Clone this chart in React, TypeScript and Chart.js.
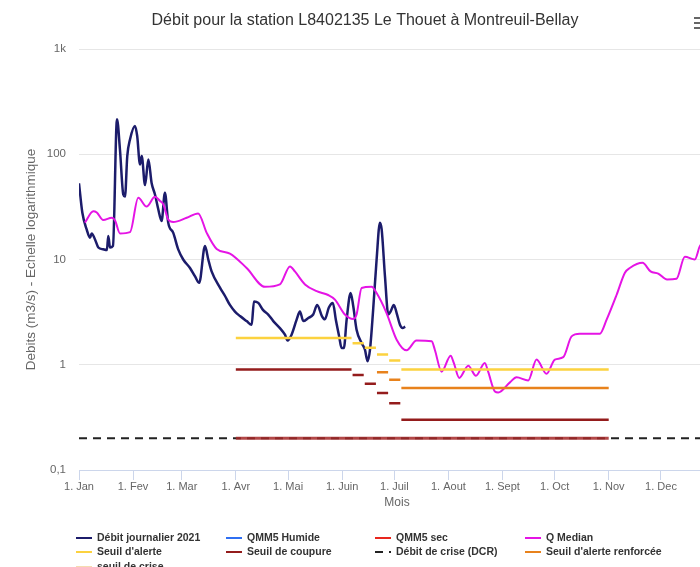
import React, { useEffect, useRef } from 'react';
import { Chart, registerables } from 'chart.js';

Chart.register(...registerables);

// ---- Data ----
const titleText = 'Débit pour la station L8402135 Le Thouet à Montreuil-Bellay';
const yAxisTitle = 'Debits (m3/s) - Echelle logarithmique';
const xAxisTitle = 'Mois';

const monthTicks = [0, 31, 59, 90, 120, 151, 181, 212, 243, 273, 304, 334];
const monthLabels = ['1. Jan', '1. Fev', '1. Mar', '1. Avr', '1. Mai', '1. Juin', '1. Juil', '1. Aout', '1. Sept', '1. Oct', '1. Nov', '1. Dec'];
const yTicks = [0.1, 1, 10, 100, 1000];
const yTickLabels = ['0,1', '1', '10', '100', '1k'];

// Débit journalier 2021 (day of year, m3/s)
const dailyDays = [0, 1.9, 4.4, 6.3, 7.3, 9.2, 11.1, 13.8, 16, 16.8, 17.8, 19.5, 21.8, 23.5, 25.4, 26.4, 27.7, 29.3, 32.1, 33.4, 35, 36, 37.9, 39.8, 41.7, 43.6, 45.5, 47.4, 49.3, 51.2, 54.1, 57, 59.8, 63.7, 66.6, 69, 72.3, 74.2, 76.1, 80.9, 83.8, 86.6, 89.5, 92.4, 96.2, 99.1, 100.4, 102.9, 105.7, 108.6, 111.5, 115.3, 118.2, 119.7, 122, 124.9, 126.8, 128.7, 131.6, 134.4, 136.7, 139.4, 141.1, 143.4, 145.7, 147.4, 149.3, 150.7, 152, 153.6, 155.9, 157.4, 159.3, 162.2, 164.1, 165.6, 167, 168.8, 170.8, 172.7, 173.7, 175.6, 177.5, 178.8, 180.7, 182.3, 184.2, 185.7, 187.2];
const dailyValues = [53, 28, 19.3, 16.1, 17.7, 15.5, 13, 12.5, 12.3, 16.7, 13, 13.5, 215, 111, 41.5, 39.6, 96, 139, 186, 149, 80, 96, 51, 89, 53, 41.5, 30, 23.2, 43, 22.4, 17.9, 12.4, 10, 8.3, 6.9, 6.0, 13.4, 10, 7.7, 5.4, 4.5, 3.7, 3.2, 2.9, 2.6, 2.4, 4.0, 3.87, 3.3, 3.0, 2.6, 2.23, 1.93, 1.7, 1.93, 2.68, 3.2, 2.6, 2.78, 3.0, 3.7, 2.9, 2.7, 3.5, 3.87, 2.68, 1.86, 1.44, 1.44, 2.68, 4.8, 3.6, 2.15, 1.61, 1.39, 1.08, 1.39, 3.3, 10, 22.4, 19.3, 6.9, 3.0, 3.2, 3.7, 3.1, 2.4, 2.23, 2.3];

// Q Median
const medianDays = [3.4, 8.2, 10.2, 13.9, 18.8, 20.7, 23.5, 29.3, 34, 38.8, 43.6, 46.5, 48.4, 51.2, 54.1, 61.8, 68.4, 73.3, 79, 86.6, 96.2, 106.7, 115.3, 121.1, 123.9, 129.7, 136.4, 143, 146.9, 152.6, 157.4, 159.3, 162.2, 167.9, 170.8, 176.5, 182.3, 188, 193.7, 202.4, 204.2, 208.1, 213.3, 215.1, 218.2, 223.4, 227.8, 232.9, 234.8, 238.7, 240.6, 247.3, 251.1, 257.8, 262.6, 268.3, 273.1, 277.9, 282.7, 287.4, 298.9, 302.8, 308.5, 313.3, 316.1, 323.4, 328, 332.4, 337.5, 342.9, 347.7, 353.4, 356.3, 365];
const medianValues = [22.4, 28.8, 28, 23.7, 24.9, 23.5, 17.7, 18.2, 38.6, 31.8, 39.4, 36, 33.4, 24, 22.7, 24.9, 27.4, 17.9, 12.6, 11.4, 8.3, 5.5, 5.8, 8.6, 7.7, 5.8, 5.0, 4.6, 4.16, 3.0, 2.72, 3.0, 5.36, 5.5, 4.8, 3.1, 1.73, 1.37, 1.7, 1.67, 1.39, 0.86, 1.22, 1.04, 0.75, 0.98, 0.786, 1.04, 0.86, 0.557, 0.545, 0.68, 0.76, 0.71, 1.12, 0.82, 1.12, 1.18, 1.86, 1.97, 1.97, 2.68, 4.6, 7.5, 8.3, 9.3, 7.7, 7.35, 6.45, 6.55, 10.6, 10, 13.4, 18];

// Threshold periods (day of year)
const periodStarts = [90, 157, 164, 171, 178, 185];
const periodEnds = [157, 164, 171, 178, 185, 304];
const alerteValues = [1.8, 1.6, 1.45, 1.25, 1.1, 0.9];
const renforceeValues = [null, null, null, 0.85, 0.72, 0.6];
const coupureValues = [0.9, 0.8, 0.66, 0.54, 0.43, 0.3];
const criseStarts = [90];
const criseEnds = [304];
const criseValues = [0.2];
const dcrValue = 0.2;

const FONT = '"Liberation Sans", Arial, sans-serif';

function pairs(xs: number[], ys: number[]) {
  return xs.map((x, i) => ({ x, y: ys[i] }));
}

function segments(starts: number[], ends: number[], values: (number | null)[], last: boolean) {
  const out: { x: number; y: number | null }[] = [];
  values.forEach((v, i) => {
    if (v == null) return;
    const isLast = i === values.length - 1;
    const end = isLast || last ? ends[i] : ends[i] - 0.6;
    out.push({ x: starts[i], y: v }, { x: end, y: v }, { x: end + 0.1, y: null });
  });
  return out;
}

const decorPlugin = {
  id: 'decor',
  afterDraw(chart: any) {
    const ctx = chart.ctx as CanvasRenderingContext2D;
    ctx.save();
    // title
    ctx.fillStyle = '#333333';
    ctx.font = `16px ${FONT}`;
    ctx.textAlign = 'center';
    ctx.textBaseline = 'middle';
    ctx.fillText(titleText, 365, 21);
    // context menu icon (partially visible)
    ctx.strokeStyle = '#666666';
    ctx.lineWidth = 2;
    [18, 23, 28].forEach((y) => {
      ctx.beginPath();
      ctx.moveTo(694, y);
      ctx.lineTo(712, y);
      ctx.stroke();
    });
    // legend
    const cols = [76, 226, 375, 525];
    const rows = [538, 552, 567];
    ctx.textAlign = 'left';
    ctx.font = `bold 10.5px ${FONT}`;
    chart.data.datasets.forEach((ds: any, i: number) => {
      const cx = cols[i % 4];
      const cy = rows[Math.floor(i / 4)];
      ctx.strokeStyle = ds.legendColor || ds.borderColor;
      ctx.lineWidth = 2;
      ctx.setLineDash(ds.borderDash || []);
      ctx.beginPath();
      ctx.moveTo(cx, cy);
      ctx.lineTo(cx + 16, cy);
      ctx.stroke();
      ctx.setLineDash([]);
      ctx.fillStyle = '#333333';
      ctx.fillText(ds.label, cx + 21, cy);
    });
    ctx.restore();
  },
};

export default function App() {
  const ref = useRef<HTMLCanvasElement | null>(null);
  useEffect(() => {
    if (!ref.current) return;
    const base = { pointRadius: 0, pointHoverRadius: 0, fill: false, spanGaps: false };
    const chart = new Chart(ref.current, {
      type: 'line',
      data: {
        datasets: [
          { ...base, label: 'Débit journalier 2021', data: pairs(dailyDays, dailyValues), borderColor: '#1c1c6b', borderWidth: 2.5, cubicInterpolationMode: 'monotone', order: 0 },
          { ...base, label: 'QMM5 Humide', data: [], borderColor: '#2f6ff2', borderWidth: 2, order: -1 },
          { ...base, label: 'QMM5 sec', data: [], borderColor: '#e8261e', borderWidth: 2, order: -2 },
          { ...base, label: 'Q Median', data: pairs(medianDays, medianValues), borderColor: '#e514e5', borderWidth: 2, cubicInterpolationMode: 'monotone', order: -3 },
          { ...base, label: "Seuil d'alerte", data: segments(periodStarts, periodEnds, alerteValues, false), borderColor: '#fcd23f', borderWidth: 2.5, order: -4 },
          { ...base, label: 'Seuil de coupure', data: segments(periodStarts, periodEnds, coupureValues, false), borderColor: '#941c1c', borderWidth: 2.5, order: -5 },
          { ...base, label: 'Débit de crise (DCR)', data: [{ x: 0, y: dcrValue }, { x: 365, y: dcrValue }], borderColor: '#222222', borderWidth: 2, borderDash: [8, 6], order: -6 },
          { ...base, label: "Seuil d'alerte renforcée", data: segments(periodStarts, periodEnds, renforceeValues, false), borderColor: '#e8821c', borderWidth: 2.5, order: -7 },
          { ...base, label: 'seuil de crise', data: segments(criseStarts, criseEnds, criseValues, true), borderColor: 'rgba(165,40,40,0.85)', legendColor: '#f5dcb0', borderWidth: 3, order: -8 },
        ] as any,
      },
      options: {
        responsive: false,
        animation: false,
        devicePixelRatio: 1,
        layout: { padding: { top: 49, right: 15, bottom: 57, left: 0 } },
        plugins: { legend: { display: false }, tooltip: { enabled: false }, title: { display: false } },
        scales: {
          x: {
            type: 'linear',
            min: 0,
            max: 365,
            afterBuildTicks: (s: any) => { s.ticks = monthTicks.map((v) => ({ value: v })); },
            afterFit: (s: any) => { s.height = 40; },
            ticks: {
              autoSkip: false,
              maxRotation: 0,
              padding: 0,
              color: '#666666',
              font: { family: FONT, size: 11 },
              callback: (_v: any, i: number) => monthLabels[i],
            },
            grid: { drawOnChartArea: false, drawTicks: true, tickLength: 10, color: '#ccd6eb' },
            border: { color: '#ccd6eb' },
            title: { display: true, text: xAxisTitle, color: '#666666', font: { family: FONT, size: 12 }, padding: { top: 0, bottom: 0 } },
          },
          y: {
            type: 'logarithmic',
            min: 0.1,
            max: 1000,
            afterBuildTicks: (s: any) => { s.ticks = yTicks.map((v) => ({ value: v })); },
            afterFit: (s: any) => { s.width = 79; },
            ticks: {
              padding: 13,
              color: '#666666',
              font: { family: FONT, size: 11.5 },
              callback: (_v: any, i: number) => yTickLabels[i],
            },
            grid: { color: '#e6e6e6', drawTicks: false },
            border: { display: false },
            title: { display: true, text: yAxisTitle, color: '#666666', font: { family: FONT, size: 13.5 }, padding: { top: 23, bottom: 0 } },
          },
        },
      } as any,
      plugins: [decorPlugin],
    });
    return () => chart.destroy();
  }, []);

  return (
    <div style={{ position: 'fixed', left: 0, top: 0, width: 700, height: 567, overflow: 'hidden', background: '#ffffff' }}>
      <canvas ref={ref} width={730} height={567} style={{ display: 'block' }} />
    </div>
  );
}
